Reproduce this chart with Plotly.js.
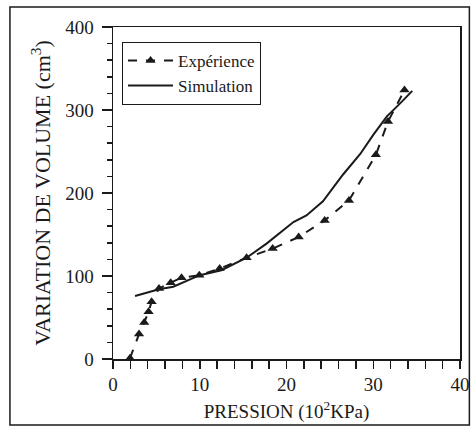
<!DOCTYPE html>
<html><head><meta charset="utf-8">
<script src="https://cdn.plot.ly/plotly-3.0.1.min.js"></script>
<style>html,body{margin:0;padding:0;background:#fff}#chart{width:471px;height:428px}</style>
</head><body><div id="chart"></div>
<script>
const expX = [1.96, 3.0, 3.6, 4.1, 4.45, 5.3, 6.65, 7.9, 9.95, 12.3, 15.4, 18.4, 21.4, 24.4, 27.2, 30.3, 31.7, 33.6];
const expY = [1, 30, 44, 57, 69, 85, 92, 98, 101, 109, 122, 133, 147, 167, 191, 246, 286, 324];
const simX = [2.54, 5.3, 6.95, 10, 12.5, 15.4, 17.7, 20.8, 22.3, 24.2, 26.5, 28.5, 30.0, 31.55, 33.1, 34.5];
const simY = [76, 84, 87, 101, 107, 122, 139, 165, 173, 190, 222, 247, 270, 292, 308, 323];
const xTitle = 'PRESSION (10<sup>2</sup>KPa)';
const yTitle = 'VARIATION DE VOLUME (cm<sup>3</sup>)';

const ink = '#1a1a1a';
const traces = [
  {x: expX, y: expY, name: 'Expérience', mode: 'lines+markers', type: 'scatter',
   line: {color: ink, width: 2, dash: 'dash'},
   marker: {symbol: 'triangle-up', size: 9, color: ink}},
  {x: simX, y: simY, name: 'Simulation', mode: 'lines', type: 'scatter',
   line: {color: ink, width: 2}}
];
const font = {family: '"Liberation Serif", "Times New Roman", serif', color: ink};
const layout = {
  width: 471, height: 428,
  margin: {l: 113, r: 11, t: 27, b: 69},
  paper_bgcolor: '#fff', plot_bgcolor: '#fff',
  font: Object.assign({size: 17}, font),
  showlegend: true,
  legend: {x: 0.026, y: 0.955, xanchor: 'left', yanchor: 'top', bordercolor: ink, borderwidth: 1,
           bgcolor: '#fff', font: Object.assign({size: 17}, font), tracegroupgap: 0, itemwidth: 45},
  xaxis: {range: [0, 40], dtick: 10, tick0: 0, showgrid: false, zeroline: false,
          showline: true, linecolor: ink, linewidth: 1.5, mirror: true,
          ticks: 'outside', ticklen: 8, tickwidth: 1.5, tickcolor: ink,
          minor: {dtick: 2, ticks: 'outside', ticklen: 8, tickwidth: 1.5, tickcolor: ink, showgrid: false},
          tickfont: Object.assign({size: 19}, font),
          title: {text: xTitle, font: Object.assign({size: 19}, font), standoff: 10}},
  yaxis: {range: [0, 400], dtick: 100, tick0: 0, showgrid: false, zeroline: false,
          showline: true, linecolor: ink, linewidth: 1.5, mirror: true,
          ticks: 'outside', ticklen: 10, tickwidth: 1.5, tickcolor: ink, ticklabelstandoff: 4,
          minor: {dtick: 20, ticks: 'outside', ticklen: 5, tickwidth: 1.5, tickcolor: ink, showgrid: false},
          tickfont: Object.assign({size: 19}, font),
          title: {text: yTitle, font: Object.assign({size: 22}, font), standoff: 8}},
  shapes: [{type: 'rect', xref: 'paper', yref: 'paper', x0: -0.297, x1: 1.027, y0: -0.199, y1: 1.06,
            line: {color: ink, width: 1.5}, fillcolor: 'rgba(0,0,0,0)', layer: 'below'}]
};
Plotly.newPlot('chart', traces, layout, {displayModeBar: false, staticPlot: true});
</script></body></html>
